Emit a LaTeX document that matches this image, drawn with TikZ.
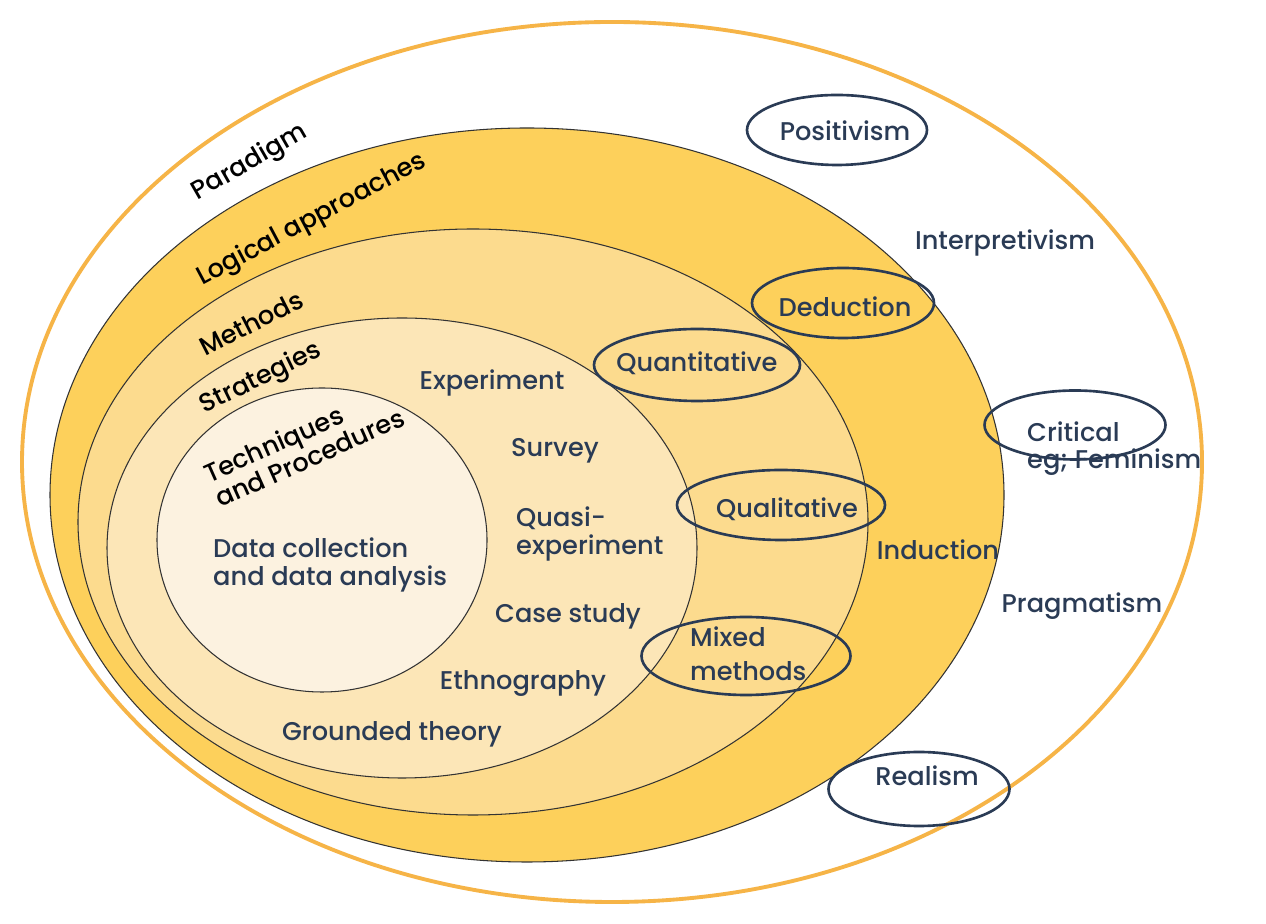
\documentclass[tikz,border=0pt]{standalone}
\usepackage{fontspec}
\setmainfont{Poppins Medium}
\usepackage{xcolor}
\usepackage{tikz}
\usetikzlibrary{shapes,positioning}

\definecolor{navy}{HTML}{2A3B55}
\definecolor{ringorange}{HTML}{F6B447}
\definecolor{logicfill}{HTML}{FDD05B}
\definecolor{methodfill}{HTML}{FCDB8E}
\definecolor{stratfill}{HTML}{FCE6B7}
\definecolor{techfill}{HTML}{FCF2E0}

\begin{document}
\begin{tikzpicture}[
    layer/.style={draw=black!80, line width=0.6pt},
    oval/.style={ellipse, draw=navy, line width=1.5pt, inner sep=0pt},
    item/.style={text=navy, align=left, font=\fontsize{14.6}{15.5}\selectfont},
    tag/.style={text=black, align=left, font=\fontsize{14.6}{15.5}\selectfont}
]
\useasboundingbox (0,0) rectangle (25.32,18.48);

% Nested layers
\draw[draw=ringorange, fill=white, line width=2.2pt] (12.24,9.24) ellipse (11.8 and 8.8);
\draw[layer, fill=logicfill] (10.54,8.58) ellipse (9.54 and 7.34);
\draw[layer, fill=methodfill] (9.46,8.04) ellipse (7.9 and 5.86);
\draw[layer, fill=stratfill] (8.04,7.52) ellipse (5.9 and 4.6);
\draw[layer, fill=techfill] (6.44,7.68) ellipse (3.3 and 3.04);

% Layer names
\node[tag, rotate=30] (paradigm) at (5.0,15.22) {Paradigm};
\node[tag, rotate=28] (logical) at (6.24,14.08) {Logical approaches};
\node[tag, rotate=27] (methods) at (5.02,12.02) {Methods};
\node[tag, rotate=26] (strategies) at (5.22,10.9) {Strategies};
\node[tag, rotate=24] (techniques) at (6.08,9.58) {Techniques\\and Procedures};

% Strategies and techniques
\node[item] (experiment) at (9.84,10.82) {Experiment};
\node[item] (survey) at (11.1,9.46) {Survey};
\node[item, anchor=west] (quasi) at (10.2,7.8) {Quasi-\\experiment};
\node[item] (case) at (11.36,6.16) {Case study};
\node[item] (ethno) at (10.46,4.8) {Ethnography};
\node[item] (grounded) at (7.84,3.8) {Grounded theory};
\node[item, anchor=west] (data) at (4.14,7.18) {Data collection\\and data analysis};

% Paradigms and approaches
\node[item] (interp) at (20.1,13.62) {Interpretivism};
\node[item] (induction) at (18.76,7.48) {Induction};
\node[item] (pragmatism) at (21.64,6.36) {Pragmatism};
\node[item, anchor=west] (critical) at (20.42,9.5) {Critical\\eg; Feminism};
\node[item] (realism) at (18.54,2.96) {Realism};
\node[item] (positivism) at (16.9,15.86) {Positivism};
\node[item] (deduction) at (16.9,12.34) {Deduction};
\node[item] (quant) at (13.94,11.22) {Quantitative};
\node[item] (qual) at (15.74,8.3) {Qualitative};
\node[item, anchor=west] (mixed) at (13.68,5.4) {Mixed\\[4pt]methods};

% Circled items
\node[oval, minimum width=3.6cm, minimum height=1.4cm] (positivism-oval) at (16.74,15.88) {};
\node[oval, minimum width=3.64cm, minimum height=1.4cm] (deduction-oval) at (16.86,12.42) {};
\node[oval, minimum width=4.12cm, minimum height=1.44cm] (quant-oval) at (13.94,11.18) {};
\node[oval, minimum width=4.16cm, minimum height=1.4cm] (qual-oval) at (15.62,8.38) {};
\node[oval, minimum width=4.18cm, minimum height=1.56cm] (mixed-oval) at (14.92,5.36) {};
\node[oval, minimum width=3.62cm, minimum height=1.38cm] (critical-oval) at (21.5,9.98) {};
\node[oval, minimum width=3.62cm, minimum height=1.48cm] (realism-oval) at (18.38,2.7) {};

\end{tikzpicture}
\end{document}
